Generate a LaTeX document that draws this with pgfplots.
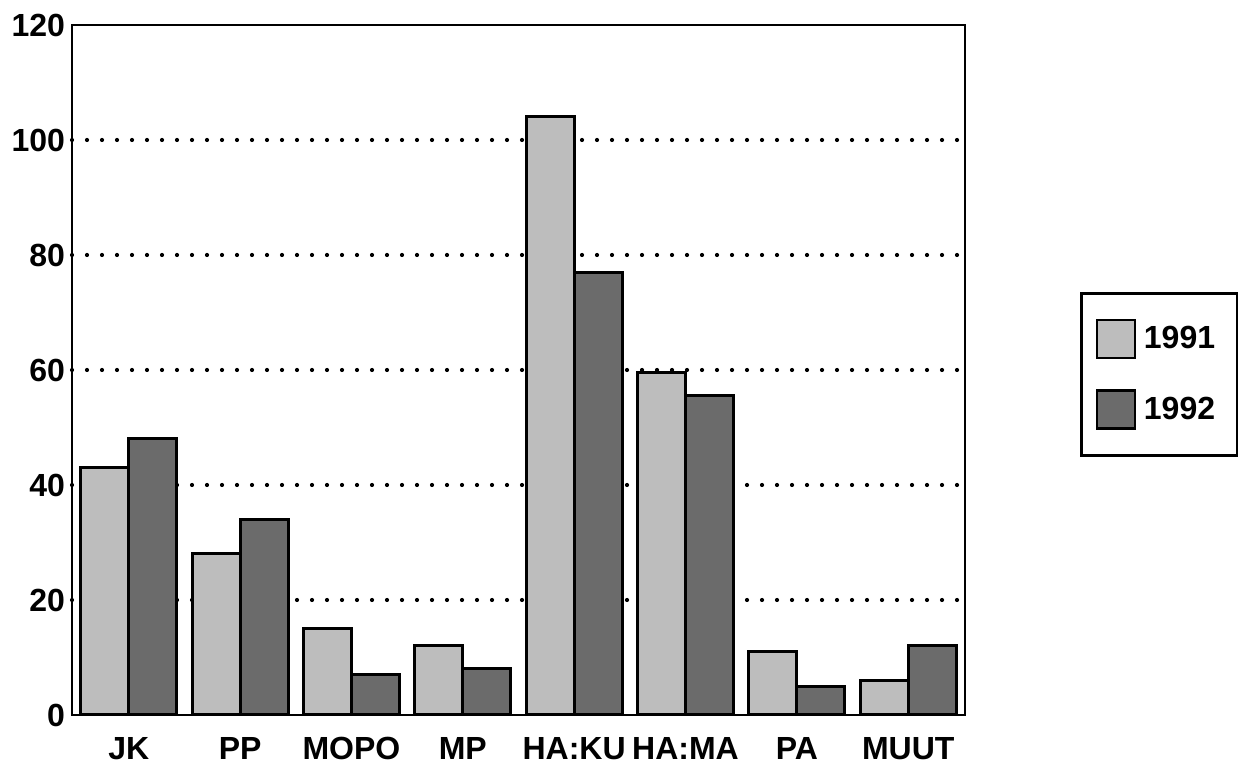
\documentclass[border=0pt]{standalone}
\usepackage{fontspec}
\setmainfont{Liberation Sans}
\usepackage{pgfplots}
\pgfplotsset{compat=1.18}
\definecolor{light}{gray}{0.74}
\definecolor{dark}{gray}{0.42}
\begin{document}
\begin{tikzpicture}[x=1pt,y=1pt]
\path[use as bounding box] (0,0) rectangle (619,383);
\begin{axis}[
    at={(36pt,25.5pt)}, anchor=south west,
    scale only axis, width=446.5pt, height=345pt,
    ybar=0pt, bar width=24pt,
    xmin=-0.51, xmax=7.51, ymin=0, ymax=120,
    xtick={0,...,7},
    xticklabels={JK,PP,MOPO,MP,HA:KU,HA:MA,PA,MUUT},
    ytick={20,40,...,100},
    extra y ticks={0,120},
    extra y tick style={grid=none},
    major tick length=0pt,
    ymajorgrids,
    grid style={line width=2.1pt, black, dash pattern=on 0pt off 7.5pt, line cap=round},
    axis line style={line width=1.3pt},
    tick label style={font=\fontsize{16}{18}\selectfont\bfseries},
    xticklabel style={text height=11.5pt, text depth=0pt, yshift=-7pt},
    /pgf/number format/assume math mode=true,
    legend style={at={(1.1288,0.4935)}, anchor=west, draw=black, line width=1.5pt,
        font=\fontsize{16}{18}\selectfont\bfseries,
        row sep=15pt, inner xsep=7pt, inner ysep=13pt,
        nodes={inner xsep=4pt}},
    legend cell align=left,
    legend image code/.code={\draw[#1, line width=1.2pt] (0pt,-9.5pt) rectangle (19pt,9.5pt);},
]
\addplot[draw=black, line width=1.5pt, fill=light] coordinates
  {(0,43) (1,28) (2,15) (3,12) (4,104) (5,59.5) (6,11) (7,6)};
\addplot[draw=black, line width=1.5pt, fill=dark] coordinates
  {(0,48) (1,34) (2,7) (3,8) (4,77) (5,55.5) (6,5) (7,12)};
\legend{1991,1992}
\end{axis}
\end{tikzpicture}
\end{document}
